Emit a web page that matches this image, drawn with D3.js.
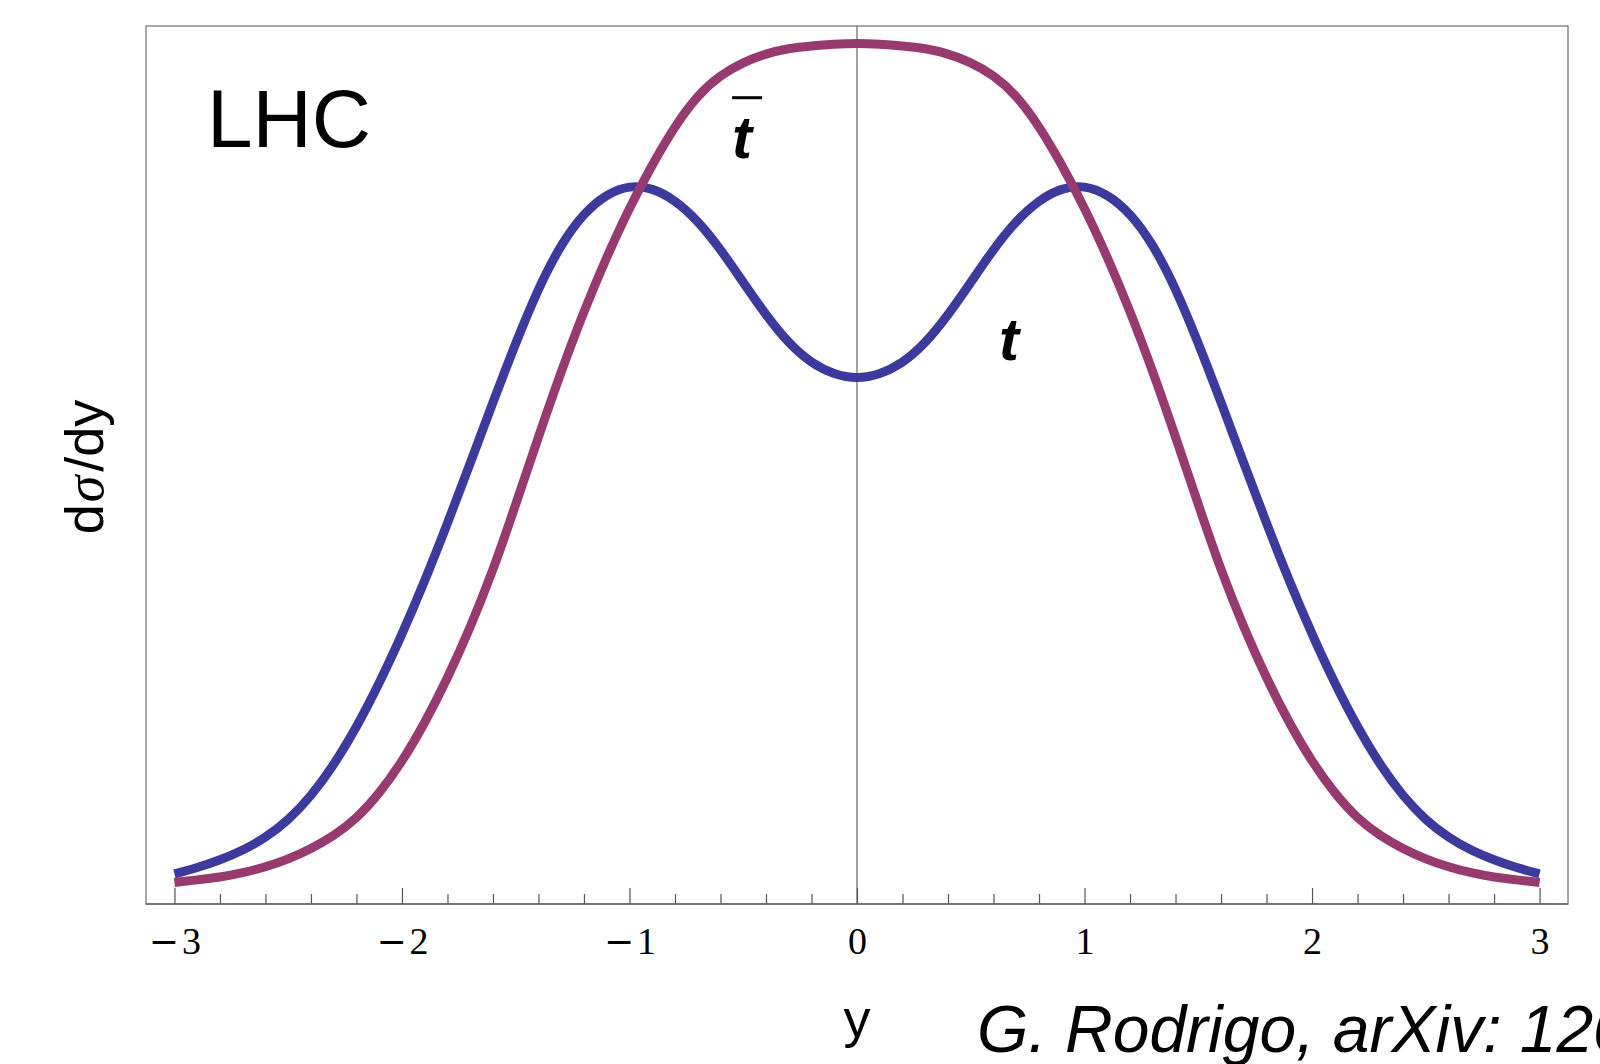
<!DOCTYPE html>
<html>
<head>
<meta charset="utf-8">
<script src="https://cdn.jsdelivr.net/npm/d3@7"></script>
<style>
    body { margin: 0; background: #fff; }
    svg { display: block; }
</style>
</head>
<body>
<div id="chart"></div>
<script>

const rapidity = [-3, -2.9, -2.8, -2.7, -2.6, -2.5, -2.4, -2.3, -2.2, -2.1, -2, -1.9, -1.8, -1.7, -1.6, -1.5, -1.4, -1.3, -1.2, -1.1, -1,
    -0.9, -0.8, -0.7, -0.6, -0.5, -0.4, -0.3, -0.2, -0.1, 0, 0.1, 0.2, 0.3, 0.4, 0.5, 0.6, 0.7, 0.8, 0.9, 1,
    1.1, 1.2, 1.3, 1.4, 1.5, 1.6, 1.7, 1.8, 1.9, 2, 2.1, 2.2, 2.3, 2.4, 2.5, 2.6, 2.7, 2.8, 2.9, 3];

// top quark dsigma/dy (blue), arbitrary units
const topQuark = [0.035, 0.042, 0.051, 0.062, 0.077, 0.097, 0.125, 0.161, 0.205, 0.256, 0.313, 0.375, 0.442, 0.512, 0.583, 0.652, 0.716, 0.767, 0.803, 0.825, 0.835,
    0.832, 0.818, 0.794, 0.761, 0.722, 0.684, 0.651, 0.628, 0.615, 0.610, 0.615, 0.628, 0.651, 0.684, 0.722, 0.761, 0.794, 0.818, 0.832, 0.835,
    0.825, 0.803, 0.767, 0.716, 0.652, 0.583, 0.512, 0.442, 0.375, 0.313, 0.256, 0.205, 0.161, 0.125, 0.097, 0.077, 0.062, 0.051, 0.042, 0.035];

// anti-top dsigma/dy (purple)
const antiTop = [0.025, 0.028, 0.031, 0.036, 0.043, 0.052, 0.064, 0.079, 0.099, 0.128, 0.165, 0.210, 0.262, 0.321, 0.387, 0.464, 0.543, 0.619, 0.689, 0.752, 0.809,
    0.859, 0.904, 0.940, 0.963, 0.978, 0.988, 0.994, 0.997, 0.999, 1.000, 0.999, 0.997, 0.994, 0.988, 0.978, 0.963, 0.940, 0.904, 0.859, 0.809,
    0.752, 0.689, 0.619, 0.543, 0.464, 0.387, 0.321, 0.262, 0.210, 0.165, 0.128, 0.099, 0.079, 0.064, 0.052, 0.043, 0.036, 0.031, 0.028, 0.025];

const majorTicks = [-3, -2, -1, 0, 1, 2, 3];
const majorLabels = ["\u22123", "\u22122", "\u22121", "0", "1", "2", "3"];
const minorTicks = [-2.8, -2.6, -2.4, -2.2, -1.8, -1.6, -1.4, -1.2, -0.8, -0.6, -0.4, -0.2,
    0.2, 0.4, 0.6, 0.8, 1.2, 1.4, 1.6, 1.8, 2.2, 2.4, 2.6, 2.8];

// set the dimensions and margins of the graph
const W = 1600, H = 1064;
const margin = {top: 26, right: 32, bottom: 160, left: 146},
    width = W - margin.left - margin.right,
    height = H - margin.top - margin.bottom;

const svg = d3.select("#chart")
    .append("svg")
    .attr("width", W)
    .attr("height", H)
    .append("g")
    .attr("transform", `translate(${margin.left},${margin.top})`);

const x = d3.scaleLinear()
    .domain([-3.125, 3.125])
    .range([0, width]);

const y = d3.scaleLinear()
    .domain([0, 1.02])
    .range([height, 0]);

// frame
svg.append("rect")
    .attr("x", 0)
    .attr("y", 0)
    .attr("width", width)
    .attr("height", height)
    .attr("fill", "none")
    .attr("stroke", "#8a8a8a")
    .attr("stroke-width", 1.5);

// vertical line at y = 0
svg.append("line")
    .attr("x1", x(0)).attr("x2", x(0))
    .attr("y1", 0).attr("y2", height)
    .attr("stroke", "#666")
    .attr("stroke-width", 1.2);

// minor ticks (inward)
const minorAxis = svg.append("g")
    .attr("transform", `translate(0, ${height})`)
    .call(d3.axisBottom(x).tickValues(minorTicks).tickSizeInner(-10).tickSizeOuter(0).tickFormat(""));
minorAxis.select(".domain").remove();
minorAxis.selectAll("line").attr("stroke", "#555").attr("stroke-width", 1.2);

// major ticks + labels
const majorAxis = svg.append("g")
    .attr("transform", `translate(0, ${height})`)
    .call(d3.axisBottom(x).tickValues(majorTicks).tickSizeInner(-16).tickSizeOuter(0)
        .tickPadding(23)
        .tickFormat((d, i) => majorLabels[i]));
majorAxis.select(".domain").attr("stroke", "#666").attr("stroke-width", 1.5)
    .attr("d", `M0,0H${width}`);
majorAxis.selectAll("line").attr("stroke", "#555").attr("stroke-width", 1.2);
majorAxis.selectAll("text")
    .attr("fill", "#000")
    .style("font-family", "'Liberation Serif', 'Times New Roman', serif")
    .style("font-size", "38px")
    .each(function () {
        // Mathematica style: long minus, small gap before the digit
        const t = d3.select(this);
        const s = t.text();
        if (s[0] !== "\u2212") return;
        t.text("");
        t.append("tspan").style("font-family", "'DejaVu Sans', sans-serif").style("font-size", "36px").text("\u2212");
        t.append("tspan").attr("dx", 3).text(s.slice(1));
    });

// curves
const line = d3.line()
    .x((d, i) => x(rapidity[i]))
    .y(d => y(d))
    .curve(d3.curveBasis);

svg.append("path")
    .datum(topQuark)
    .attr("fill", "none")
    .attr("stroke", "#3d3a9e")
    .attr("stroke-width", 9)
    .attr("d", line);

svg.append("path")
    .datum(antiTop)
    .attr("fill", "none")
    .attr("stroke", "#973a6d")
    .attr("stroke-width", 9)
    .attr("d", line);

// labels inside the plot
svg.append("text")
    .attr("x", 61)
    .attr("y", 121)
    .style("font-family", "'Liberation Sans', Arial, sans-serif")
    .style("font-size", "82px")
    .text("LHC");

const tbar = svg.append("g")
    .attr("transform", `translate(${x(-0.505)},${y(0.867)})`);
tbar.append("text")
    .attr("text-anchor", "middle")
    .style("font-family", "'Liberation Sans', Arial, sans-serif")
    .style("font-style", "italic")
    .style("font-weight", "bold")
    .style("font-size", "60px")
    .text("t");
tbar.append("line")
    .attr("x1", -10).attr("x2", 20)
    .attr("y1", -60).attr("y2", -60)
    .attr("stroke", "#000")
    .attr("stroke-width", 3);

svg.append("text")
    .attr("x", x(0.668))
    .attr("y", y(0.632))
    .attr("text-anchor", "middle")
    .style("font-family", "'Liberation Sans', Arial, sans-serif")
    .style("font-style", "italic")
    .style("font-weight", "bold")
    .style("font-size", "60px")
    .text("t");

// axis titles
const yTitle = svg.append("text")
    .attr("transform", `translate(${103 - margin.left},${467 - margin.top}) rotate(-90)`)
    .attr("text-anchor", "middle")
    .style("font-family", "'Liberation Sans', Arial, sans-serif")
    .style("font-size", "54px");
yTitle.append("tspan").text("d");
yTitle.append("tspan").attr("dx", 2).style("font-family", "'Liberation Serif', serif").style("font-style", "italic").text("\u03c3");
yTitle.append("tspan").attr("dx", 4).text("/dy");

svg.append("text")
    .attr("x", x(0))
    .attr("y", 1037 - margin.top)
    .attr("text-anchor", "middle")
    .style("font-family", "'Liberation Sans', Arial, sans-serif")
    .style("font-size", "54px")
    .text("y");

// citation, runs off the right edge like the original
svg.append("text")
    .attr("x", 977 - margin.left)
    .attr("y", 1052 - margin.top)
    .style("font-family", "'Liberation Sans', Arial, sans-serif")
    .style("font-style", "italic")
    .style("font-size", "66px")
    .text("G. Rodrigo, arXiv: 120");

</script>
</body>
</html>
